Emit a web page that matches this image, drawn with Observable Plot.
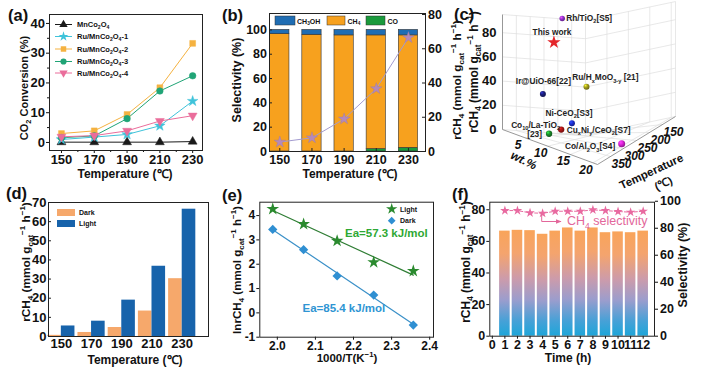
<!DOCTYPE html>
<html>
<head>
<meta charset="utf-8">
<script src="https://cdn.jsdelivr.net/npm/d3@7"></script>
<script src="https://cdn.jsdelivr.net/npm/@observablehq/plot@0.6"></script>
<style>
html,body{margin:0;padding:0;background:#fff;}
#fig{position:relative;width:706px;height:370px;overflow:hidden;background:#fff;}
#fig .panel{position:absolute;}
#fig svg{overflow:visible;max-width:none;}
</style>
</head>
<body>
<div id="fig"></div>
<script>
// ================= DATA =================
const temperatures = [150, 170, 190, 210, 230];
const tempMinorTicks = [160, 180, 200, 220];

// (a) CO2 conversion (%)
const seriesA = ["MnCo_{2}O_{4}", "Ru/MnCo_{2}O_{4}-1", "Ru/MnCo_{2}O_{4}-2", "Ru/MnCo_{2}O_{4}-3", "Ru/MnCo_{2}O_{4}-4"];
const convMnCo2O4 = [0.1, 0.1, 0.1, 0.1, 0.3];
const convRu1 = [1.0, 1.8, 2.7, 5.6, 13.9];
const convRu2 = [3.0, 3.9, 9.4, 18.4, 33.3];
const convRu3 = [1.6, 2.2, 8.0, 17.3, 22.4];
const convRu4 = [1.9, 2.3, 3.9, 7.2, 9.0];
const convTicks = [0, 10, 20, 30, 40];
const convMinorTicks = [5, 15, 25, 35];

// (b) selectivity (%) and CH4 rate
const selCH3OH = [3.5, 4.0, 4.5, 4.5, 4.5];
const selCH4 = [96.5, 96.0, 95.5, 93.5, 92.5];
const selCO = [0, 0, 0, 2.0, 3.0];
const selTicks = [0, 20, 40, 60, 80, 100];
const rateTicksB = [0, 20, 40, 60, 80];

// (c) comparison with literature
const catNames = ["Rh/TiO_{2}[S5]", "This work", "Ir@UiO-66[22]", "Ru/H_{x}MoO_{3-y} [21]", "Ni-CeO_{2}[S3]", "Co_{10}/La-TiO_{2}", "Cu_{x}Ni_{y}/CeO_{2}[S7]", "Co/Al_{2}O_{3}[S4]"];
const catWt = [1, 1, 1, 5, 10, 10, 10, 20];
const catTemp = [200, 230, 270, 175, 310, 395, 350, 290];
const catRate = [95, 75, 32, 38, 14, 10, 11, 2];
const zTicksC = [0, 20, 40, 60, 80];
const wtTicksC = [5, 10, 15, 20];
const tTicksC = [150, 200, 250, 300, 350];

// (d) dark vs light
const rateDark = [0.6, 2.1, 4.7, 13.3, 30.2];
const rateLight = [5.5, 8.0, 19.0, 36.7, 66.5];
const rateTicksD = [0, 10, 20, 30, 40, 50, 60, 70];

// (e) Arrhenius
const invT = [1.988, 2.069, 2.157, 2.253, 2.357];
const lnLight = [4.27, 3.65, 2.96, 2.08, 1.72];
const lnDark = [3.43, 2.60, 1.52, 0.73, -0.50];
const invTTicks = [2.0, 2.1, 2.2, 2.3, 2.4];
const lnTicks = [-1, 0, 1, 2, 3, 4];
const eaLabels = ["Ea=57.3 kJ/mol", "Ea=85.4 kJ/mol"];

// (f) stability
const hours = [1, 2, 3, 4, 5, 6, 7, 8, 9, 10, 11, 12];
const rateStab = [66.5, 67.0, 66.8, 64.5, 66.5, 68.5, 66.5, 68.5, 65.5, 66.0, 65.5, 66.5];
const selStab = [93.1, 93.1, 91.4, 91.1, 92.6, 92.6, 92.6, 93.6, 93.1, 92.4, 91.9, 92.6];
const hourTicks = [0, 1, 2, 3, 4, 5, 6, 7, 8, 9, 10, 11, 12];
const rateTicksF = [0, 20, 40, 60, 80];
const selTicksF = [0, 20, 40, 60, 80, 100];

// ================= HELPERS =================
const FONT = "'Liberation Sans', Arial, Helvetica, sans-serif";
const fig = d3.select("#fig");
function place(plot, left, top, w, h) {
  const div = fig.append("div").attr("class", "panel")
    .style("left", left + "px").style("top", top + "px").style("width", w + "px").style("height", h + "px");
  div.node().appendChild(plot);
  return plot;
}
function styleOf(size) {
  return {fontFamily: FONT, fontWeight: "bold", fontSize: size + "px", color: "#111", background: "transparent", overflow: "visible", maxWidth: "none"};
}
function rich(parent, x, y, str, o = {}) {
  const size = o.size ?? 12;
  const t = parent.append("text")
    .attr("transform", `translate(${x},${y})` + (o.rotate ? ` rotate(${o.rotate})` : ""))
    .attr("text-anchor", o.anchor ?? "middle").attr("font-family", FONT).attr("font-size", size)
    .attr("font-weight", o.weight ?? "bold").attr("font-style", o.italic ? "italic" : "normal")
    .attr("fill", o.fill ?? "#111");
  let cur = 0;
  for (const part of str.split(/(_\{[^}]*\}|\^\{[^}]*\})/)) {
    if (!part) continue;
    let kind = 0, txt = part;
    if (part.startsWith("_{")) { kind = 1; txt = part.slice(2, -1); }
    else if (part.startsWith("^{")) { kind = -1; txt = part.slice(2, -1); }
    const target = kind === 1 ? size * 0.28 : kind === -1 ? -size * 0.42 : 0;
    t.append("tspan").attr("dy", target - cur).attr("font-size", kind ? size * 0.68 : size).text(txt);
    cur = target;
  }
  return t;
}
// inward tick helpers (length 3 px)
const inTickX = (ticks, innerH, fx = d => d) => Plot.tickX(ticks, {x: fx, insetTop: innerH - 3, stroke: "#222"});
const inTickY = (ticks, innerW, fy = d => d) => Plot.tickY(ticks, {y: fy, insetRight: innerW - 3, stroke: "#222"});
const inTickYR = (ticks, innerW, fy = d => d) => Plot.tickY(ticks, {y: fy, insetLeft: innerW - 3, stroke: "#222"});
const RATE_TITLE = "rCH_{4} (mmol g_{cat}^{−1} h^{−1})";

// ================= (a) =================
const convA = [convMnCo2O4, convRu1, convRu2, convRu3, convRu4];
const colorsA = ["#1a1a1a", "#3fc3da", "#f5b240", "#20a476", "#ea6d9b"];
const symbolsA = ["triangle", "star", "square", "circle", "triangle"];
const rotateA = [0, 0, 0, 0, 180];
const rowsA = seriesA.map((s, i) => temperatures.map((t, j) => ({s, t, v: convA[i][j]})));
const plotA = Plot.plot({
  width: 240, height: 185, marginLeft: 49, marginRight: 38, marginTop: 14, marginBottom: 35,
  style: styleOf(13),
  x: {domain: [142.7, 236]}, y: {domain: [-2.7, 43]},
  marks: [
    Plot.axisX({ticks: temperatures, tickSize: 3, tickPadding: 1.5, label: null, tickFormat: d => d}),
    Plot.axisX({ticks: tempMinorTicks, tickSize: 2, label: null, tickFormat: () => ""}),
    Plot.axisY({ticks: convTicks, tickSize: 3, tickPadding: 1.5, label: null, tickFormat: d => d}),
    Plot.axisY({ticks: convMinorTicks, tickSize: 2, label: null, tickFormat: () => ""}),
    ...rowsA.map((rows, i) => Plot.line(rows, {x: "t", y: "v", stroke: colorsA[i], strokeWidth: 1})),
    ...rowsA.map((rows, i) => Plot.dot(rows, {x: "t", y: "v", symbol: symbolsA[i], fill: colorsA[i], stroke: colorsA[i], strokeWidth: 0.5, r: 3.3, rotate: rotateA[i]})),
    Plot.frame({stroke: "#222", strokeWidth: 1})
  ]
});
place(plotA, 0, 0, 240, 185);

// ================= (b) =================
const kB = 113.5 / 80.6;
const innerWB = 240 - 39 - 45, innerHB = 185 - 13 - 34;
const rowsB = temperatures.map((t, j) => ({t, co: selCO[j], ch4: selCH4[j], ch3oh: selCH3OH[j], r: rateLight[j]}));
const plotB = Plot.plot({
  width: 240, height: 185, marginLeft: 39, marginRight: 45, marginTop: 13, marginBottom: 34,
  style: styleOf(12.5),
  x: {domain: [143.6, 240.6]}, y: {domain: [0, 113.5]},
  marks: [
    Plot.axisX({ticks: temperatures, tickSize: 0, tickPadding: 4, label: null, tickFormat: d => d}),
    Plot.axisY({ticks: selTicks, tickSize: 0, tickPadding: 2.5, label: null, tickFormat: d => d}),
    Plot.axisY({anchor: "right", ticks: rateTicksB.map(v => v * kB), tickFormat: d => Math.round(d / kB), tickSize: 0, tickPadding: 2.5, label: null}),
    Plot.rect(rowsB, {x1: d => d.t - 6, x2: d => d.t + 6, y1: 0, y2: d => d.co, fill: "#1a9a3c", stroke: "#333", strokeWidth: 0.6}),
    Plot.rect(rowsB, {x1: d => d.t - 6, x2: d => d.t + 6, y1: d => d.co, y2: d => d.co + d.ch4, fill: "#f7a11e", stroke: "#333", strokeWidth: 0.6}),
    Plot.rect(rowsB, {x1: d => d.t - 6, x2: d => d.t + 6, y1: d => d.co + d.ch4, y2: d => d.co + d.ch4 + d.ch3oh, fill: "#1f6db3", stroke: "#333", strokeWidth: 0.6}),
    Plot.line(rowsB, {x: "t", y: d => d.r * kB, stroke: "#a39bd0", strokeWidth: 1}),
    Plot.dot(rowsB, {x: "t", y: d => d.r * kB, symbol: "star", fill: "#b58aba", stroke: "#9a78a8", strokeWidth: 0.4, r: 3.6}),
    inTickX(temperatures, innerHB),
    inTickY(selTicks, innerWB),
    inTickYR(rateTicksB, innerWB, d => d * kB),
    Plot.frame({stroke: "#222", strokeWidth: 1})
  ]
});
place(plotB, 230, 0, 240, 185);

// ================= (c) 3D-like scatter =================
const C_L = [42, 129], C_F = [137, 164], C_R = [215, 116], C_B = [125, 135];
const C_K = 1.21, WT_MAX = 21, T_NEAR = 400, T_FAR = 100, Z_TOP = 95;
function projC(wt, T, z) {
  const u = wt / WT_MAX, v = (T_NEAR - T) / (T_NEAR - T_FAR);
  const x = C_L[0] + u * (C_F[0] - C_L[0]) + v * (C_B[0] - C_L[0]) + u * v * (C_L[0] - C_F[0] - C_B[0] + C_R[0]);
  const y = C_L[1] + u * (C_F[1] - C_L[1]) + v * (C_B[1] - C_L[1]) + u * v * (C_L[1] - C_F[1] - C_B[1] + C_R[1]);
  return [x, y - z * C_K];
}
const gridSegs = [], axisSegs = [];
const seg = (arr, a, b) => arr.push({x1: a[0], y1: a[1], x2: b[0], y2: b[1]});
const zLines = [...zTicksC, Z_TOP];
for (const z of zLines) seg(gridSegs, projC(0, T_NEAR, z), projC(0, T_FAR, z));
for (const T of [...tTicksC, T_FAR]) seg(gridSegs, projC(0, T, 0), projC(0, T, Z_TOP));
for (const z of zLines) seg(gridSegs, projC(0, T_FAR, z), projC(WT_MAX, T_FAR, z));
for (const w of [...wtTicksC, WT_MAX]) seg(gridSegs, projC(w, T_FAR, 0), projC(w, T_FAR, Z_TOP));
for (const T of tTicksC) seg(gridSegs, projC(0, T, 0), projC(WT_MAX, T, 0));
for (const w of wtTicksC) seg(gridSegs, projC(w, T_NEAR, 0), projC(w, T_FAR, 0));
seg(axisSegs, projC(0, T_NEAR, 0), projC(0, T_NEAR, Z_TOP));
seg(axisSegs, projC(0, T_NEAR, 0), projC(WT_MAX, T_NEAR, 0));
seg(axisSegs, projC(WT_MAX, T_NEAR, 0), projC(WT_MAX, T_FAR, 0));

const sphereColors = ["#9a34d6", "#e3262b", "#1b1f7e", "#a8a31e", "#1c2fd8", "#1c8f2c", "#b31616", "#e326e0"];
const sphereR = [3.2, 4.2, 3.8, 3.8, 3.8, 4.2, 4.2, 5.2];
const rowsC = catNames.map((n, i) => {
  const [x, y] = projC(catWt[i], catTemp[i], catRate[i]);
  return {i, n, x, y, fill: `url(#sph${i})`, r: sphereR[i]};
});
const plotC = Plot.plot({
  width: 246, height: 185, margin: 0,
  style: styleOf(13),
  x: {domain: [0, 246], range: [0, 246], axis: null},
  y: {domain: [0, 185], range: [0, 185], axis: null},
  color: {type: "identity"},
  marks: [
    Plot.link(gridSegs, {x1: "x1", y1: "y1", x2: "x2", y2: "y2", stroke: "#dedede", strokeWidth: 0.7}),
    Plot.link(axisSegs, {x1: "x1", y1: "y1", x2: "x2", y2: "y2", stroke: "#8c8c8c", strokeWidth: 0.9}),
    Plot.text(zTicksC, {x: z => projC(0, T_NEAR, z)[0], y: z => projC(0, T_NEAR, z)[1], text: d => String(d), textAnchor: "end", dx: -6, fontSize: 13}),
    Plot.text(wtTicksC, {x: w => projC(w, T_NEAR, 0)[0], y: w => projC(w, T_NEAR, 0)[1], text: d => String(d), dx: -7, dy: 7, fontSize: 12, fontStyle: "italic"}),
    Plot.text(tTicksC, {x: T => projC(WT_MAX, T, 0)[0], y: T => projC(WT_MAX, T, 0)[1], text: d => String(d), dx: 11, dy: 8, fontSize: 12, fontStyle: "italic"}),
    Plot.dot(rowsC.filter(d => d.i !== 1).sort((a, b) => a.y - b.y), {x: "x", y: "y", r: "r", fill: "fill"}),
    Plot.dot(rowsC.filter(d => d.i === 1), {x: "x", y: "y", symbol: "star", fill: "#e3262b", r: 4.2})
  ]
});
{
  const defs = d3.select(plotC).insert("defs", ":first-child");
  sphereColors.forEach((c, i) => {
    const g = defs.append("radialGradient").attr("id", `sph${i}`).attr("cx", 0.4).attr("cy", 0.38).attr("r", 0.62).attr("fx", 0.32).attr("fy", 0.28);
    g.append("stop").attr("offset", "0%").attr("stop-color", d3.color(c).brighter(1.6).formatHex());
    g.append("stop").attr("offset", "45%").attr("stop-color", c);
    g.append("stop").attr("offset", "100%").attr("stop-color", d3.color(c).darker(1.3).formatHex());
  });
}
place(plotC, 460, 0, 246, 185);

// ================= (d) =================
const innerWD = 240 - 48 - 32, innerHD = 190 - 22 - 34;
const rowsD = temperatures.map((t, j) => ({t, dark: rateDark[j], light: rateLight[j]}));
const plotD = Plot.plot({
  width: 240, height: 190, marginLeft: 48, marginRight: 32, marginTop: 22, marginBottom: 34,
  style: styleOf(13),
  x: {domain: [141.5, 247.4]}, y: {domain: [0, 70]},
  marks: [
    Plot.axisX({ticks: temperatures, tickSize: 0, tickPadding: 2, label: null, tickFormat: d => d}),
    Plot.axisY({ticks: rateTicksD, tickSize: 0, tickPadding: 2, label: null, tickFormat: d => d}),
    Plot.rectY(rowsD, {x1: d => d.t - 9, x2: d => d.t, y: "dark", fill: "#f6a86b"}),
    Plot.rectY(rowsD, {x1: d => d.t, x2: d => d.t + 9, y: "light", fill: "#1763ab"}),
    inTickY(rateTicksD, innerWD),
    Plot.frame({stroke: "#222", strokeWidth: 1})
  ]
});
place(plotD, 0, 180, 240, 190);

// ================= (e) =================
const rowsLight = invT.map((x, j) => ({x, y: lnLight[j]}));
const rowsDark = invT.map((x, j) => ({x, y: lnDark[j]}));
const plotE = Plot.plot({
  width: 240, height: 190, marginLeft: 29.3, marginRight: 37, marginTop: 21.7, marginBottom: 33.3,
  style: styleOf(12),
  x: {domain: [1.954, 2.41]}, y: {domain: [-1, 4.55]},
  marks: [
    Plot.axisX({ticks: invTTicks, tickSize: 3, tickPadding: 1, label: null, tickFormat: d => d.toFixed(1)}),
    Plot.axisY({ticks: lnTicks, tickSize: 3, tickPadding: 1.5, label: null, tickFormat: d => String(d)}),
    Plot.linearRegressionY(rowsLight, {x: "x", y: "y", stroke: "#2f7d34", strokeWidth: 1.2, ci: 0}),
    Plot.linearRegressionY(rowsDark, {x: "x", y: "y", stroke: "#3a90c8", strokeWidth: 1.2, ci: 0}),
    Plot.dot(rowsLight, {x: "x", y: "y", symbol: "star", fill: "#2a8a2e", r: 4}),
    Plot.dot(rowsDark, {x: "x", y: "y", symbol: "diamond2", fill: "#2f8fd2", r: 4.2}),
    Plot.frame({stroke: "#222", strokeWidth: 1})
  ]
});
place(plotE, 230, 180, 240, 190);

// ================= (f) =================
const kF = 84.8 / 99.3;
const rowsF = hours.map((h, j) => ({h, r: rateStab[j], s: selStab[j]}));
const plotF = Plot.plot({
  width: 246, height: 190, marginLeft: 29.3, marginRight: 52, marginTop: 21.7, marginBottom: 34.3,
  style: styleOf(12.5),
  x: {domain: [-0.2, 12.9]}, y: {domain: [0, 84.8]},
  marks: [
    Plot.axisX({ticks: hourTicks, tickSize: 3, tickPadding: 1, label: null, tickFormat: d => d}),
    Plot.axisY({ticks: rateTicksF, tickSize: 3, tickPadding: 1.5, label: null, tickFormat: d => d}),
    Plot.axisY({anchor: "right", ticks: selTicksF.map(v => v * kF), tickFormat: d => Math.round(d / kF), tickSize: 3, tickPadding: 2.5, label: null}),
    Plot.rectY(rowsF, {x1: d => d.h - 0.42, x2: d => d.h + 0.42, y: "r", fill: "url(#fgrad)"}),
    Plot.line(rowsF, {x: "h", y: d => d.s * kF, stroke: "#e86aa0", strokeWidth: 1, strokeDasharray: "3,2"}),
    Plot.dot(rowsF, {x: "h", y: d => d.s * kF, symbol: "star", fill: "#e86aa0", r: 3}),
    Plot.frame({stroke: "#222", strokeWidth: 1})
  ]
});
d3.select(plotF).insert("defs", ":first-child").html(
  `<linearGradient id="fgrad" x1="0" y1="0" x2="0" y2="1">
     <stop offset="0%" stop-color="#f9a45a"/>
     <stop offset="22%" stop-color="#f4a46e"/>
     <stop offset="46%" stop-color="#cc9bab"/>
     <stop offset="66%" stop-color="#9b9dcd"/>
     <stop offset="86%" stop-color="#46a1d7"/>
     <stop offset="100%" stop-color="#1ea6d9"/>
   </linearGradient>`);
place(plotF, 460, 180, 246, 190);

// ================= overlay: titles, legends, annotations =================
const ov = fig.append("svg").attr("width", 706).attr("height", 370)
  .style("position", "absolute").style("left", "0px").style("top", "0px").style("pointer-events", "none");

// panel letters
[["(a)", 8, 21], ["(b)", 222, 21], ["(c)", 454, 20], ["(d)", 6, 199], ["(e)", 222, 201], ["(f)", 452, 200]]
  .forEach(([t, x, y]) => rich(ov, x, y, t, {size: 16.5, anchor: "start"}));

// (a)
rich(ov, 125, 178, "Temperature (℃)", {size: 12});
rich(ov, 28, 88, "CO_{2} Conversion (%)", {size: 11, rotate: -90});
const legY = [24.5, 36.5, 49, 61.5, 73];
seriesA.forEach((s, i) => {
  ov.append("line").attr("x1", 55).attr("x2", 72).attr("y1", legY[i]).attr("y2", legY[i]).attr("stroke", colorsA[i]).attr("stroke-width", 1);
  const sym = {triangle: d3.symbolTriangle, star: d3.symbolStar, square: d3.symbolSquare, circle: d3.symbolCircle}[symbolsA[i]];
  ov.append("path").attr("d", d3.symbol(sym, 30)()).attr("fill", colorsA[i])
    .attr("transform", `translate(63.5,${legY[i]}) rotate(${rotateA[i]})`);
  rich(ov, 77, legY[i] + 2.6, s, {size: 7.5, anchor: "start"});
});

// (b)
rich(ov, 350, 178, "Temperature (℃)", {size: 12});
rich(ov, 241, 80, "Selectivity (%)", {size: 12.5, rotate: -90});
rich(ov, 461, 80, RATE_TITLE, {size: 11.8, rotate: -90});
[["#1f6db3", 275, 20, "CH_{3}OH", 297], ["#f7a11e", 327, 18, "CH_{4}", 347.5], ["#1a9a3c", 366, 19, "CO", 387.5]]
  .forEach(([c, x, w, t, tx]) => {
    ov.append("rect").attr("x", x).attr("y", 16).attr("width", w).attr("height", 9).attr("fill", c).attr("stroke", "#333").attr("stroke-width", 0.5);
    rich(ov, tx, 23.5, t, {size: 7, anchor: "start"});
  });

// (c)
rich(ov, 478, 72, RATE_TITLE, {size: 12, rotate: -90});
rich(ov, 522, 164, "wt.%", {size: 12, rotate: 26, italic: true});
rich(ov, 653, 175, "Temperature", {size: 11.5, rotate: -25});
rich(ov, 665, 187, "(℃)", {size: 11, rotate: -25});
const labOffC = [[4.5, 3, "start"], [-1.5, -7, "middle"], [1, -9.5, "middle"], [-13.7, -6, "start"], [-2.4, -7, "middle"], [-13, -5.5, "middle"], [6, 4, "start"], [-6, 6, "end"]];
rowsC.forEach((d, i) => {
  const [dx, dy, anchor] = labOffC[i];
  rich(ov, 460 + d.x + dx, d.y + dy, d.n, {size: 8.3, anchor, fill: "#222"});
});
rich(ov, 460 + rowsC[5].x - 14, rowsC[5].y + 3.5, "[23]", {size: 8.3, fill: "#222"});

// (d)
rich(ov, 29.5, 262, RATE_TITLE, {size: 11.8, rotate: -90});
rich(ov, 135, 364, "Temperature (℃)", {size: 12});
[["#f6a86b", 209, "Dark", 214.5], ["#1763ab", 220, "Light", 225.5]].forEach(([c, y, t, ty]) => {
  ov.append("rect").attr("x", 57).attr("y", y).attr("width", 18).attr("height", 7).attr("fill", c);
  rich(ov, 79, ty, t, {size: 7, anchor: "start"});
});

// (e)
rich(ov, 240.5, 270, "lnrCH_{4} (mmol g_{cat}^{−1} h^{−1})", {size: 11.6, rotate: -90});
rich(ov, 347, 362, "1000/T(K^{−1})", {size: 11.5});
ov.append("path").attr("d", d3.symbol(d3.symbolStar, 40)()).attr("fill", "#2a8a2e").attr("transform", "translate(391.7,209)");
rich(ov, 400, 211.5, "Light", {size: 7, anchor: "start"});
ov.append("path").attr("d", d3.symbol(d3.symbolSquare, 30)()).attr("fill", "#2f8fd2").attr("transform", "translate(391.7,220.7) rotate(45)");
rich(ov, 400, 223.2, "Dark", {size: 7, anchor: "start"});
rich(ov, 345, 237, eaLabels[0], {size: 11.5, anchor: "start", fill: "#2ea834"});
rich(ov, 302.5, 312, eaLabels[1], {size: 11.5, anchor: "start", fill: "#2f95d3"});

// (f)
rich(ov, 470, 262, RATE_TITLE, {size: 12, rotate: -90});
rich(ov, 687, 265, "Selectivity (%)", {size: 12.5, rotate: -90});
rich(ov, 568, 362, "Time (h)", {size: 12});
ov.append("defs").html(`<marker id="arrF" viewBox="0 0 10 10" refX="9" refY="5" markerWidth="6" markerHeight="6" orient="auto"><path d="M0,1 L10,5 L0,9 z" fill="#e3679b"/></marker>`);
ov.append("path").attr("d", "M541.7,213.5 V221.5 H561").attr("fill", "none").attr("stroke", "#e3679b").attr("stroke-width", 1).attr("marker-end", "url(#arrF)");
rich(ov, 567, 225, "CH_{4} selectivity", {size: 12.5, anchor: "start", weight: "normal", fill: "#e3679b"});
</script>
</body>
</html>
